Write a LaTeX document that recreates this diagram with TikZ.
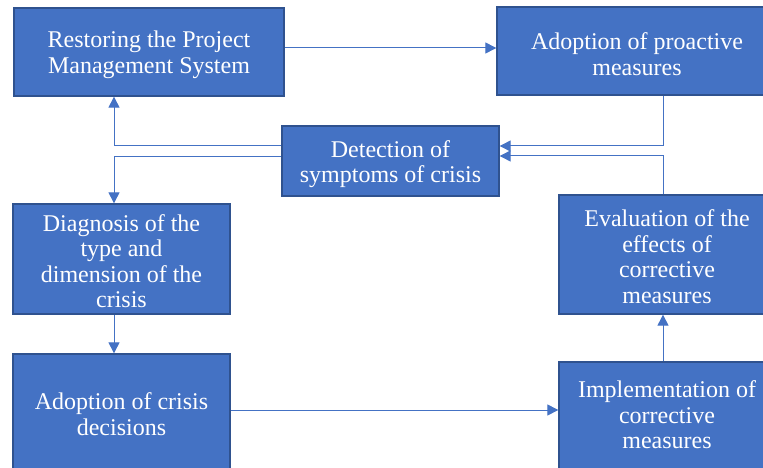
\documentclass[tikz,border=0pt]{standalone}
\usepackage{fontspec}
\setmainfont{Liberation Serif}
\usetikzlibrary{arrows.meta,calc}
\definecolor{boxfill}{HTML}{4472C4}
\definecolor{boxline}{HTML}{2F528F}
\definecolor{connline}{HTML}{4472C4}
\tikzset{
  box/.style={rectangle, draw=boxline, line width=1.3pt, fill=boxfill, inner sep=0pt},
  boxtext/.style={text=white, align=center, inner sep=0pt, font=\fontsize{24}{25.5}\selectfont},
  conn/.style={draw=connline, line width=1pt, -{Triangle[length=11pt,width=11pt]}}
}
\begin{document}
\begin{tikzpicture}[x=1pt,y=-1pt]
\useasboundingbox (0,0) rectangle (763,468);
\begin{scope}
\clip (0,0) rectangle (763,468);
\node[box, minimum width=270pt, minimum height=88pt] (restore) at (149,52) {};
\node[box, minimum width=280pt, minimum height=88pt] (proact) at (637,51) {};
\node[box, minimum width=217pt, minimum height=70pt] (detect) at (390.5,161) {};
\node[box, minimum width=217pt, minimum height=110pt] (diag) at (121.5,259) {};
\node[box, minimum width=217pt, minimum height=124pt] (crisis) at (121.5,416) {};
\node[box, minimum width=216pt, minimum height=119pt] (eval) at (667,254.5) {};
\node[box, minimum width=216pt, minimum height=116pt] (impl) at (667,420) {};

\node[boxtext] (restoreT) at ([yshift=-3pt]restore.center) {Restoring the Project\\Management System};
\node[boxtext] (proactT) at ([yshift=-3pt]proact.center) {Adoption of proactive\\measures};
\node[boxtext] (detectT) at ([yshift=-3pt]detect.center) {Detection of\\symptoms of crisis};
\node[boxtext] (diagT) at ([yshift=-2pt]diag.center) {Diagnosis of the\\type and\\dimension of the\\crisis};
\node[boxtext] (crisisT) at (121.5,414) {Adoption of crisis\\decisions};
\node[boxtext] (evalT) at ([yshift=-2pt]eval.center) {Evaluation of the\\effects of\\corrective\\measures};
\node[boxtext] (implT) at (667,415) {Implementation of\\corrective\\measures};

\draw[conn] (restore.east |- 0,48) -- (proact.west |- 0,48);
\draw[conn] (detect.west |- 0,146) -| (114,0 |- restore.south);
\draw[conn] (detect.west |- 0,157) -| (114,0 |- diag.north);
\draw[conn] (663,0 |- proact.south) |- (detect.east |- 0,146);
\draw[conn] (663,0 |- eval.north) |- (detect.east |- 0,156);
\draw[conn] (114,0 |- diag.south) -- (114,0 |- crisis.north);
\draw[conn] (crisis.east |- 0,410) -- (impl.west |- 0,410);
\draw[conn] (663,0 |- impl.north) -- (663,0 |- eval.south);
\end{scope}
\end{tikzpicture}
\end{document}
